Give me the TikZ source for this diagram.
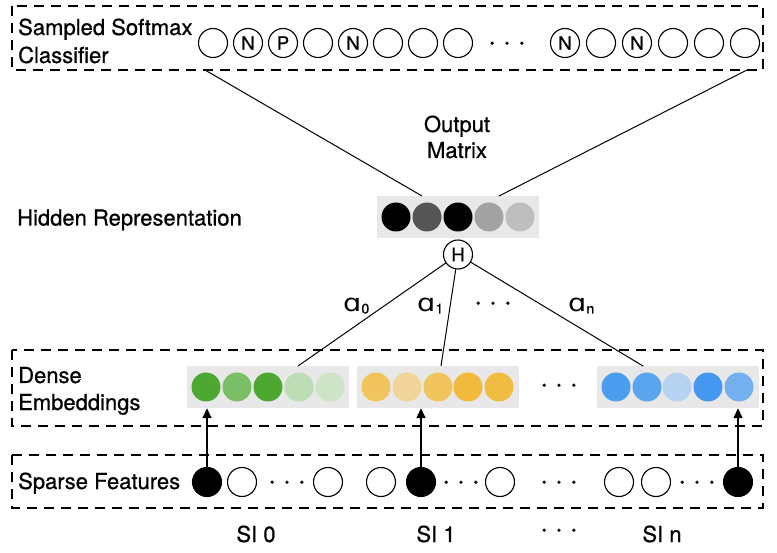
\documentclass[tikz,border=0pt]{standalone}
\usepackage{fontspec}
\setmainfont{TeX Gyre Heros}[FakeBold=0.7]
\newfontfamily\dejavu{DejaVu Sans}
\usetikzlibrary{arrows.meta}
\definecolor{panelgray}{HTML}{E8E8E8}
\definecolor{hgA}{HTML}{555555}
\definecolor{hgB}{HTML}{A2A2A2}
\definecolor{hgC}{HTML}{BEBEBE}
\definecolor{grA}{HTML}{4DA832}
\definecolor{grB}{HTML}{7BBE68}
\definecolor{grC}{HTML}{BEDCB4}
\definecolor{grD}{HTML}{CDE4C6}
\definecolor{yeA}{HTML}{F2C55C}
\definecolor{yeB}{HTML}{F0D49A}
\definecolor{yeC}{HTML}{F1BA3C}
\definecolor{yeD}{HTML}{F1BC42}
\definecolor{blA}{HTML}{4B9DF0}
\definecolor{blB}{HTML}{5AA5EE}
\definecolor{blC}{HTML}{B5D2F0}
\definecolor{blD}{HTML}{4598EF}
\definecolor{blE}{HTML}{74AFEE}
\newcommand\mydots{{\fontsize{13}{13}\selectfont\textbullet\hspace{10.3pt}\textbullet\hspace{10.3pt}\textbullet}}
\newcommand\asub[1]{\scalebox{1.2}[1]{\dejavu\fontsize{24}{26}\selectfont ɑ}\raisebox{-1.5pt}{\fontsize{14}{14}\selectfont #1}}
\begin{document}
\begin{tikzpicture}[x=1pt,y=-1pt,
  every node/.style={font=\fontsize{22}{26}\selectfont, inner sep=0pt},
  dashbox/.style={draw, line width=1.8pt, dash pattern=on 10pt off 7pt},
  unit/.style={circle, draw, line width=1.1pt, minimum size=29pt, inner sep=0pt, font=\fontsize{18.5}{20}\selectfont},
  emb/.style={circle, minimum size=29pt, inner sep=0pt},
  panel/.style={fill=panelgray, draw=none, minimum width=162pt, minimum height=42pt},
  conn/.style={line width=1pt},
  upar/.style={line width=1.5pt, -{Triangle[length=10pt,width=9pt]}},
  lab/.style={anchor=base west},
  dotsl/.style={anchor=base},
]
\useasboundingbox (0,0) rectangle (777,553);

% dashed layer boxes
\draw[dashbox] (12,6) rectangle (763,70);
\draw[dashbox] (12,350) rectangle (763,426);
\draw[dashbox] (12,455) rectangle (763,508);

% left labels
\node[lab] (ls1) at (18,35) {Sampled Softmax};
\node[lab] (ls2) at (18,63) {Classifier};
\node[lab] (lhr) at (17,225.5) {Hidden Representation};
\node[lab] (lde1) at (18,383) {Dense};
\node[lab] (lde2) at (18,410) {Embeddings};
\node[lab] (lsf) at (18,489) {Sparse Features};

% softmax row
\node[unit] (c1) at (213,43) {};
\node[unit] (c2) at (248,43) {N};
\node[unit] (c3) at (283,43) {P};
\node[unit] (c4) at (318,43) {};
\node[unit] (c5) at (353,43) {N};
\node[unit] (c6) at (388,43) {};
\node[unit] (c7) at (423,43) {};
\node[unit] (c8) at (458,43) {};
\node[dotsl] (cd) at (507,47.7) {\mydots};
\node[unit] (c9) at (565,43) {N};
\node[unit] (c10) at (601,43) {};
\node[unit] (c11) at (637,43) {N};
\node[unit] (c12) at (673,43) {};
\node[unit] (c13) at (709,43) {};
\node[unit] (c14) at (745,43) {};

% output matrix label
\node[anchor=base] (om1) at (457,132) {Output};
\node[anchor=base] (om2) at (457,158) {Matrix};

% hidden representation
\node[panel] (hid) at (458,217) {};
\node[emb, fill=black] (h1) at (396,217) {};
\node[emb, fill=hgA] (h2) at (427,217) {};
\node[emb, fill=black] (h3) at (458,217) {};
\node[emb, fill=hgB] (h4) at (489,217) {};
\node[emb, fill=hgC] (h5) at (520,217) {};
\node[unit] (H) at (458,254.5) {H};

\coordinate (tl) at (205,70);
\coordinate (tr) at (747,70);
\coordinate (hl) at (422,196);
\coordinate (hr) at (499,196);
\draw[conn] (tl) -- (hl);
\draw[conn] (tr) -- (hr);

% dense embeddings
\node[panel] (gp) at (268,387) {};
\node[emb, fill=grA] (g1) at (206,387) {};
\node[emb, fill=grB] (g2) at (237,387) {};
\node[emb, fill=grA] (g3) at (268,387) {};
\node[emb, fill=grC] (g4) at (299,387) {};
\node[emb, fill=grD] (g5) at (330,387) {};

\node[panel] (yp) at (437.5,387) {};
\node[emb, fill=yeA] (y1) at (376,387) {};
\node[emb, fill=yeB] (y2) at (407,387) {};
\node[emb, fill=yeA] (y3) at (438,387) {};
\node[emb, fill=yeC] (y4) at (468,387) {};
\node[emb, fill=yeD] (y5) at (499,387) {};

\node[dotsl] (ed) at (559,389.7) {\mydots};

\node[panel] (bp) at (677.5,387) {};
\node[emb, fill=blA] (b1) at (616,387) {};
\node[emb, fill=blB] (b2) at (647,387) {};
\node[emb, fill=blC] (b3) at (677,387) {};
\node[emb, fill=blD] (b4) at (708,387) {};
\node[emb, fill=blE] (b5) at (739,387) {};

% attention connectors
\coordinate (ga) at (298,366);
\coordinate (ya) at (441,366);
\coordinate (ba) at (643,366);
\draw[conn] (H) -- (ga);
\draw[conn] (H) -- (ya);
\draw[conn] (H) -- (ba);
\node[anchor=base west] (a0) at (343,312) {\asub{0}};
\node[anchor=base west] (a1) at (417,312) {\asub{1}};
\node[dotsl] (ad) at (493,307.7) {\mydots};
\node[anchor=base west] (an) at (568,312) {\asub{n}};

% sparse features
\node[unit, fill=black] (s1) at (207,482) {};
\node[unit] (s2) at (242,482) {};
\node[dotsl] (sd1) at (287,486.7) {\mydots};
\node[unit] (s3) at (328,482) {};
\node[unit] (s4) at (381,482) {};
\node[unit, fill=black] (s5) at (421,482) {};
\node[dotsl] (sd2) at (461,486.7) {\mydots};
\node[unit] (s6) at (500,482) {};
\node[dotsl] (sd3) at (559,486.7) {\mydots};
\node[unit] (s7) at (619,482) {};
\node[unit] (s8) at (656,482) {};
\node[dotsl] (sd4) at (697,486.7) {\mydots};
\node[unit, fill=black] (s9) at (738,482) {};

\draw[upar] (s1) -- (s1 |- gp.south);
\draw[upar] (s5) -- (s5 |- yp.south);
\draw[upar] (s9) -- (s9 |- bp.south);

% SI labels
\node[anchor=base] (si0) at (256,542) {SI 0};
\node[anchor=base] (si1) at (436,542) {SI 1};
\node[dotsl] (sid) at (559,534.7) {\mydots};
\node[anchor=base] (sin) at (662,542) {SI n};
\end{tikzpicture}
\end{document}
